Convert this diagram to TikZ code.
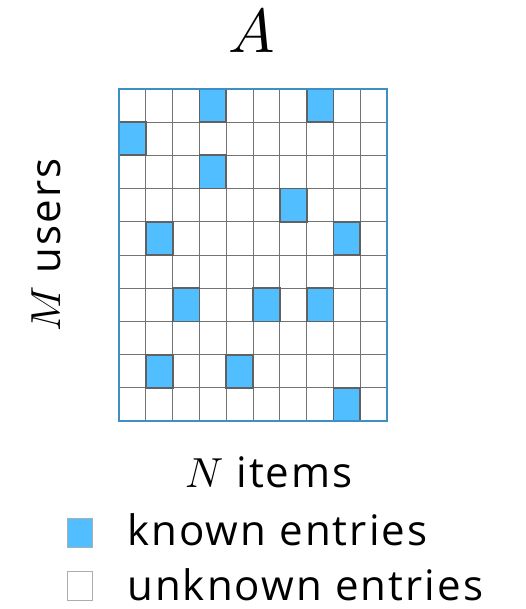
\documentclass[tikz,border=0pt]{standalone}
\usepackage{fontspec}
\usepackage{unicode-math}
\setmainfont[LetterSpace=5]{Open Sans}
\setmathfont{Latin Modern Math}
\usetikzlibrary{positioning}
\def\CellW{26.8pt}
\def\CellH{33.2pt}
\def\Known{3/0,7/0,0/1,3/2,6/3,1/4,8/4,2/6,5/6,7/6,1/8,4/8,8/9}
\definecolor{KnownClr}{RGB}{80,190,255}
\definecolor{FrameClr}{RGB}{62,143,196}
\tikzset{
    grid line/.style={draw=black!55, line width=0.9pt},
    known cell/.style={fill=KnownClr, draw=black!62, line width=1.8pt},
    frame/.style={draw=FrameClr, line width=2.2pt},
    key box/.style={
        minimum width=25pt, minimum height=29pt, inner sep=0pt,
        draw=black!32, line width=1.6pt
    },
    label text/.style={font=\fontsize{42}{48}\selectfont, inner sep=0pt},
    big math/.style={font=\fontsize{62}{70}\selectfont, inner sep=0pt}
}
\begin{document}
\begin{tikzpicture}
    \useasboundingbox (0,0) rectangle (526pt,-609pt);
    % the rating matrix, M x N
    \begin{scope}[shift={(119pt,-89pt)}, x=\CellW, y=-\CellH]
        \foreach \i in {1,...,9}{
            \draw[grid line] (\i,0) -- (\i,10);
            \draw[grid line] (0,\i) -- (10,\i);
        }
        \foreach \c/\r in \Known{
            \draw[known cell] (\c,\r) rectangle ++(1,1);
        }
        \draw[frame] (0,0) rectangle (10,10);
        \coordinate (mat) at (5,5);
    \end{scope}
    \node[big math, anchor=base] (title) at (252pt,-53pt) {$A$};
    \node[label text, anchor=base] (items) at (269pt,-487pt) {$N$ items};
    \node[label text, anchor=base, rotate=90] (users) at (60pt,-245pt) {$M$ users};
    % legend
    \node[key box, fill=KnownClr] (known key) at (80pt,-533pt) {};
    \node[key box, fill=white] (unknown key) at (80pt,-586pt) {};
    \node[label text, anchor=base west] (known text) at (127pt,-545pt) {known entries};
    \node[label text, anchor=base west] (unknown text) at (127pt,-600pt) {unknown entries};
\end{tikzpicture}
\end{document}
